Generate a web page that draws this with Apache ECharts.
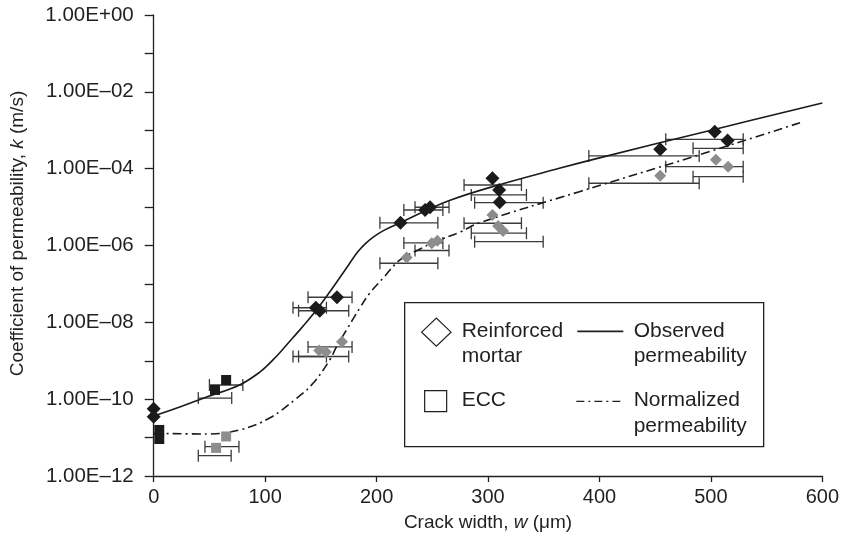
<!DOCTYPE html>
<html>
<head>
<meta charset="utf-8">
<script src="https://cdn.jsdelivr.net/npm/echarts@6/dist/echarts.min.js"></script>
<style>
  html, body { margin: 0; padding: 0; background: #fff; }
  #chart { width: 842px; height: 547px; }
</style>
</head>
<body>
<div id="chart"></div>
<script>
// Crack width w (µm) and coefficient of permeability k (m/s)

// Reinforced mortar, observed permeability (black diamonds)
const mortarW     = [0, 0, 145.5, 149, 164.5, 221.5, 243.5, 248, 304, 310, 310.5, 454.5, 503.5, 515];
const mortarK     = [5.6e-11, 3.5e-11, 2.4e-8, 2.0e-8, 4.5e-8, 3.9e-6, 8.4e-6, 9.9e-6, 5.6e-5, 2.8e-5, 1.33e-5, 3.2e-4, 9.2e-4, 5.4e-4];
// crack-width range (error bar) of each specimen and the k level at which it is drawn
const mortarWLow  = [null, null, 125, 130, 138.5, 203, 224.5, 234.5, 278.5, 285, 288, 390.5, 459.5, 484];
const mortarWHigh = [null, null, 155, 175, 178, 255, 259.5, 265, 330, 334.5, 349.5, 489.5, 529, 529];
const mortarBarK  = [null, null, 2.4e-8, 2.0e-8, 4.5e-8, 3.9e-6, 8.4e-6, 9.9e-6, 3.76e-5, 2.07e-5, 1.3e-5, 2.14e-4, 5.8e-4, 3.39e-4];

// Reinforced mortar, normalized permeability (grey diamonds)
const mortarNormW     = [148.5, 154.5, 169, 227, 249.5, 254.5, 304, 309, 313.5, 454.5, 504.5, 515.5];
const mortarNormK     = [1.85e-9, 1.7e-9, 3.1e-9, 4.9e-7, 1.14e-6, 1.33e-6, 6.2e-6, 3.2e-6, 2.4e-6, 6.5e-5, 1.7e-4, 1.13e-4];
const mortarNormWLow  = [125, 130, 138.5, 203, 224.5, 234.5, 278.5, 285, 288, 390.5, 459.5, 484];
const mortarNormWHigh = [155, 175, 178, 255, 259.5, 265, 330, 334.5, 349.5, 489.5, 529, 529];
const mortarNormBarK  = [1.29e-9, 1.29e-9, 2.29e-9, 3.45e-7, 1.17e-6, 7.4e-7, 3.8e-6, 2.09e-6, 1.26e-6, 4.17e-5, 1.13e-4, 6.2e-5];

// ECC, observed permeability (black squares)
const eccW     = [5, 5, 55, 65];
const eccK     = [1.58e-11, 9.2e-12, 1.74e-10, 3.16e-10];
const eccWLow  = [null, null, 40, 50];
const eccWHigh = [null, null, 70, 80];
const eccBarK  = [null, null, 1.07e-10, 2.34e-10];

// ECC, normalized permeability (grey squares)
const eccNormW     = [56, 65];
const eccNormK     = [5.4e-12, 1.07e-11];
const eccNormWLow  = [40, 46];
const eccNormWHigh = [69.5, 76.5];
const eccNormBarK  = [3.39e-12, 5.8e-12];

// Fitted curves
const observedW = [0, 24, 48, 77, 95, 107, 118, 128, 137, 146, 156, 166, 175, 183, 190, 197, 207, 221, 243, 266, 304, 364, 400, 503, 600];
const observedK = [3.63e-11, 6.31e-11, 1.15e-10, 2.34e-10, 5.01e-10, 1.05e-9, 2.34e-9, 5.01e-9, 1.0e-8, 2.09e-8,
                   5.13e-8, 1.32e-7, 3.16e-7, 6.76e-7, 1.12e-6, 1.66e-6, 2.51e-6, 3.89e-6, 7.76e-6, 1.51e-5,
                   3.39e-5, 1.02e-4, 1.91e-4, 1.05e-3, 5.13e-3];
const normalizedW = [0, 47.5, 77, 104, 128, 143, 158, 164, 173, 185, 194, 206, 221, 239, 252, 275, 293, 382, 484, 580];
const normalizedK = [1.29e-11, 1.24e-11, 1.58e-11, 3.24e-11, 1.04e-10, 2.59e-10, 1.05e-9, 2.29e-9, 6.33e-9, 2.37e-8,
                     5.81e-8, 1.43e-7, 4.20e-7, 8.11e-7, 1.23e-6, 2.25e-6, 3.96e-6, 2.52e-5, 2.04e-4, 1.57e-3];

// Axis ticks
const xTicks = [0, 100, 200, 300, 400, 500, 600];
const yMinExp = -12, yMaxExp = 0;

const FONT = '"Liberation Sans", Arial, Helvetica, sans-serif';
const INK = '#231f20';
const BLACK = '#1c1a1b';
const GREY = '#8d8d8d';
const BAR = '#3c3a3b';

const zip = (xs, ys) => xs.map((x, i) => [x, ys[i]]);
const bars = (lo, hi, ks) => lo.map((l, i) => [l, hi[i], ks[i]]).filter(d => d[0] != null);

function errorBar(params, api) {
  const a = api.coord([api.value(0), api.value(2)]);
  const b = api.coord([api.value(1), api.value(2)]);
  const c = 6;
  const st = { stroke: BAR, lineWidth: 1.3 };
  return {
    type: 'group',
    children: [
      { type: 'line', shape: { x1: a[0], y1: a[1], x2: b[0], y2: b[1] }, style: st },
      { type: 'line', shape: { x1: a[0], y1: a[1] - c, x2: a[0], y2: a[1] + c }, style: st },
      { type: 'line', shape: { x1: b[0], y1: b[1] - c, x2: b[0], y2: b[1] + c }, style: st }
    ]
  };
}

function barSeries(data) {
  return {
    type: 'custom', renderItem: errorBar, data: data, silent: true, z: 2,
    dimensions: ['lo', 'hi', 'k'], encode: { x: [0, 1], y: 2 }
  };
}

function yLabel(v) {
  const e = Math.round(Math.log10(v));
  if (e % 2 !== 0) return '';
  const a = Math.abs(e);
  return '1.00E' + (e >= 0 ? '+' : '\u2013') + (a < 10 ? '0' : '') + a;
}

const chart = echarts.init(document.getElementById('chart'), null, { renderer: 'canvas' });

const lx = 404, ly = 302;
chart.setOption({
  animation: false,
  backgroundColor: '#fff',
  textStyle: { fontFamily: FONT, color: INK },
  grid: { left: 153.7, right: 19.3, top: 15, bottom: 71, containLabel: false },
  xAxis: {
    type: 'value', min: xTicks[0], max: xTicks[xTicks.length - 1], interval: 100,
    axisLine: { show: true, onZero: false, lineStyle: { color: INK, width: 1.3 } },
    axisTick: { show: true, inside: false, length: 6, lineStyle: { color: INK, width: 1.3 } },
    axisLabel: { fontSize: 20, color: INK, margin: 11, fontFamily: FONT },
    splitLine: { show: false },
    name: '{a|Crack width, }{i|w}{a| (\u03bcm)}',
    nameLocation: 'middle', nameGap: 37,
    nameTextStyle: {
      rich: {
        a: { fontSize: 19, color: INK, fontFamily: FONT },
        i: { fontSize: 19, color: INK, fontFamily: FONT, fontStyle: 'italic' }
      }
    }
  },
  yAxis: {
    type: 'log', logBase: 10, min: Math.pow(10, yMinExp), max: Math.pow(10, yMaxExp),
    splitNumber: 12, interval: 1,
    axisLine: { show: true, onZero: false, lineStyle: { color: INK, width: 1.3 } },
    axisTick: { show: true, inside: false, length: 9, lineStyle: { color: INK, width: 1.3 } },
    axisLabel: { formatter: yLabel, fontSize: 20.5, color: INK, margin: 20, fontFamily: FONT },
    splitLine: { show: false },
    name: '{a|Coefficient of permeability, }{i|k}{a| (m/s)}',
    nameLocation: 'middle', nameGap: 126, nameRotate: 90,
    nameTextStyle: {
      padding: [0, 0, 0, 24],
      rich: {
        a: { fontSize: 19, color: INK, fontFamily: FONT },
        i: { fontSize: 19, color: INK, fontFamily: FONT, fontStyle: 'italic' }
      }
    }
  },
  series: [
    barSeries(bars(mortarWLow, mortarWHigh, mortarBarK)),
    barSeries(bars(mortarNormWLow, mortarNormWHigh, mortarNormBarK)),
    barSeries(bars(eccWLow, eccWHigh, eccBarK)),
    barSeries(bars(eccNormWLow, eccNormWHigh, eccNormBarK)),
    {
      name: 'Observed permeability', type: 'line', data: zip(observedW, observedK),
      showSymbol: false, smooth: 0.4, z: 3,
      lineStyle: { color: BLACK, width: 1.6 }
    },
    {
      name: 'Normalized permeability', type: 'line', data: zip(normalizedW, normalizedK),
      showSymbol: false, smooth: 0.4, z: 3,
      lineStyle: { color: BLACK, width: 1.6, type: [9, 4, 2, 4] }
    },
    {
      name: 'Reinforced mortar', type: 'scatter', data: zip(mortarW, mortarK),
      symbol: 'diamond', symbolSize: 14, z: 5, itemStyle: { color: BLACK, opacity: 1 }
    },
    {
      name: 'Reinforced mortar (normalized)', type: 'scatter', data: zip(mortarNormW, mortarNormK),
      symbol: 'diamond', symbolSize: 12, z: 5, itemStyle: { color: GREY, opacity: 1 }
    },
    {
      name: 'ECC', type: 'scatter', data: zip(eccW, eccK),
      symbol: 'rect', symbolSize: 10, z: 5, itemStyle: { color: BLACK, opacity: 1 }
    },
    {
      name: 'ECC (normalized)', type: 'scatter', data: zip(eccNormW, eccNormK),
      symbol: 'rect', symbolSize: 10, z: 5, itemStyle: { color: GREY, opacity: 1 }
    }
  ],
  graphic: [
    {
      type: 'group', left: lx, top: ly, z: 10,
      children: [
        { type: 'rect', shape: { x: 0, y: 0, width: 359, height: 144 },
          style: { fill: '#fff', stroke: INK, lineWidth: 1.3 } },
        { type: 'polygon', shape: { points: [[17, 29.5], [31.7, 15.5], [46.4, 29.5], [31.7, 43.5]] },
          style: { fill: '#fff', stroke: INK, lineWidth: 1.2 } },
        { type: 'text', x: 57, y: 28.5, style: { text: 'Reinforced', font: '21px ' + FONT, fill: INK, textVerticalAlign: 'middle' } },
        { type: 'text', x: 57, y: 53.5, style: { text: 'mortar', font: '21px ' + FONT, fill: INK, textVerticalAlign: 'middle' } },
        { type: 'line', shape: { x1: 172.7, y1: 28.7, x2: 218.7, y2: 28.7 }, style: { stroke: INK, lineWidth: 1.6 } },
        { type: 'text', x: 229, y: 28.5, style: { text: 'Observed', font: '21px ' + FONT, fill: INK, textVerticalAlign: 'middle' } },
        { type: 'text', x: 229, y: 53.5, style: { text: 'permeability', font: '21px ' + FONT, fill: INK, textVerticalAlign: 'middle' } },
        { type: 'rect', shape: { x: 20, y: 88, width: 22, height: 21 },
          style: { fill: '#fff', stroke: INK, lineWidth: 1.2 } },
        { type: 'text', x: 57, y: 98, style: { text: 'ECC', font: '21px ' + FONT, fill: INK, textVerticalAlign: 'middle' } },
        { type: 'line', shape: { x1: 171.7, y1: 98.7, x2: 218.7, y2: 98.7 },
          style: { stroke: INK, lineWidth: 1.3, lineDash: [8, 4, 2, 4] } },
        { type: 'text', x: 229, y: 98, style: { text: 'Normalized', font: '21px ' + FONT, fill: INK, textVerticalAlign: 'middle' } },
        { type: 'text', x: 229, y: 123.5, style: { text: 'permeability', font: '21px ' + FONT, fill: INK, textVerticalAlign: 'middle' } }
      ]
    }
  ]
});
</script>
</body>
</html>
